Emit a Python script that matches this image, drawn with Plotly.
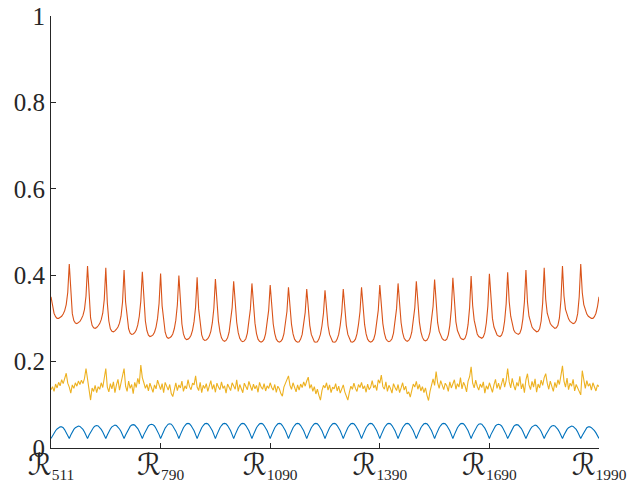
import numpy as np
import plotly.graph_objects as go

# Tick labels along the horizontal axis (region indices)
region_ids = ["511", "790", "1090", "1390", "1690", "1990"]
y_ticks = [0, 0.2, 0.4, 0.6, 0.8, 1]

# Series 1 (blue): smooth arches, one per cycle
blue_vals = [
    0.022, 0.029, 0.035, 0.040, 0.044, 0.047, 0.049, 0.049, 0.047, 0.042, 0.036, 0.029,
    0.022, 0.030, 0.037, 0.043, 0.047, 0.050, 0.051, 0.050, 0.047, 0.043, 0.037, 0.030,
    0.022, 0.030, 0.037, 0.043, 0.048, 0.051, 0.052, 0.051, 0.048, 0.043, 0.037, 0.030,
    0.022, 0.030, 0.038, 0.044, 0.049, 0.052, 0.053, 0.052, 0.049, 0.044, 0.038, 0.030,
    0.022, 0.030, 0.038, 0.045, 0.050, 0.053, 0.054, 0.053, 0.050, 0.045, 0.038, 0.030,
    0.022, 0.031, 0.039, 0.045, 0.051, 0.054, 0.055, 0.054, 0.051, 0.045, 0.039, 0.031,
    0.022, 0.031, 0.039, 0.046, 0.051, 0.055, 0.056, 0.055, 0.051, 0.046, 0.039, 0.031,
    0.022, 0.031, 0.040, 0.047, 0.052, 0.056, 0.057, 0.056, 0.052, 0.047, 0.040, 0.031,
    0.022, 0.031, 0.040, 0.047, 0.052, 0.056, 0.057, 0.056, 0.052, 0.047, 0.040, 0.031,
    0.022, 0.031, 0.040, 0.047, 0.052, 0.056, 0.057, 0.056, 0.052, 0.047, 0.040, 0.031,
    0.022, 0.031, 0.040, 0.047, 0.052, 0.056, 0.057, 0.056, 0.052, 0.047, 0.040, 0.031,
    0.022, 0.031, 0.040, 0.047, 0.052, 0.056, 0.057, 0.056, 0.052, 0.047, 0.040, 0.031,
    0.022, 0.031, 0.040, 0.047, 0.052, 0.056, 0.057, 0.056, 0.052, 0.047, 0.040, 0.031,
    0.022, 0.031, 0.040, 0.047, 0.052, 0.056, 0.057, 0.056, 0.052, 0.047, 0.040, 0.031,
    0.022, 0.031, 0.040, 0.047, 0.052, 0.056, 0.057, 0.056, 0.052, 0.047, 0.040, 0.031,
    0.022, 0.031, 0.040, 0.047, 0.052, 0.056, 0.057, 0.056, 0.052, 0.047, 0.040, 0.031,
    0.022, 0.031, 0.040, 0.047, 0.052, 0.056, 0.057, 0.056, 0.052, 0.047, 0.040, 0.031,
    0.022, 0.031, 0.040, 0.047, 0.052, 0.056, 0.057, 0.056, 0.052, 0.047, 0.040, 0.031,
    0.022, 0.031, 0.040, 0.047, 0.052, 0.056, 0.057, 0.056, 0.052, 0.047, 0.040, 0.031,
    0.022, 0.031, 0.040, 0.047, 0.052, 0.056, 0.057, 0.056, 0.052, 0.047, 0.040, 0.031,
    0.022, 0.031, 0.040, 0.047, 0.052, 0.056, 0.057, 0.056, 0.052, 0.047, 0.040, 0.031,
    0.022, 0.031, 0.040, 0.047, 0.052, 0.056, 0.057, 0.056, 0.052, 0.047, 0.040, 0.031,
    0.022, 0.031, 0.040, 0.047, 0.052, 0.056, 0.057, 0.056, 0.052, 0.047, 0.040, 0.031,
    0.022, 0.031, 0.039, 0.046, 0.051, 0.055, 0.056, 0.055, 0.051, 0.046, 0.039, 0.031,
    0.022, 0.031, 0.039, 0.045, 0.051, 0.054, 0.055, 0.054, 0.051, 0.045, 0.039, 0.031,
    0.022, 0.030, 0.038, 0.045, 0.050, 0.053, 0.054, 0.053, 0.050, 0.045, 0.038, 0.030,
    0.022, 0.030, 0.038, 0.044, 0.049, 0.052, 0.053, 0.052, 0.049, 0.044, 0.038, 0.030,
    0.022, 0.030, 0.037, 0.043, 0.048, 0.051, 0.052, 0.051, 0.048, 0.043, 0.037, 0.030,
    0.022, 0.030, 0.037, 0.043, 0.047, 0.050, 0.051, 0.050, 0.047, 0.043, 0.037, 0.030,
    0.022, 0.029, 0.036, 0.042, 0.047, 0.049, 0.049, 0.047, 0.044, 0.040, 0.035, 0.029,
    0.022,
]

# Series 2 (red): sharp cusps once per cycle
red_vals = [
    0.350, 0.327, 0.312, 0.304, 0.300, 0.300, 0.302, 0.305, 0.310, 0.318, 0.332, 0.360,
    0.426, 0.350, 0.311, 0.295, 0.289, 0.288, 0.290, 0.293, 0.299, 0.307, 0.321, 0.352,
    0.421, 0.342, 0.301, 0.284, 0.278, 0.277, 0.279, 0.283, 0.288, 0.297, 0.312, 0.344,
    0.417, 0.336, 0.294, 0.276, 0.270, 0.269, 0.271, 0.275, 0.280, 0.289, 0.305, 0.338,
    0.412, 0.338, 0.299, 0.276, 0.266, 0.263, 0.264, 0.267, 0.273, 0.285, 0.305, 0.340,
    0.408, 0.333, 0.294, 0.272, 0.261, 0.258, 0.259, 0.262, 0.268, 0.280, 0.300, 0.335,
    0.404, 0.329, 0.290, 0.268, 0.257, 0.254, 0.255, 0.258, 0.264, 0.276, 0.296, 0.331,
    0.399, 0.325, 0.287, 0.264, 0.254, 0.251, 0.252, 0.255, 0.261, 0.273, 0.293, 0.327,
    0.395, 0.322, 0.284, 0.262, 0.252, 0.249, 0.250, 0.253, 0.259, 0.270, 0.290, 0.324,
    0.391, 0.328, 0.293, 0.269, 0.255, 0.249, 0.247, 0.249, 0.255, 0.268, 0.291, 0.325,
    0.386, 0.324, 0.291, 0.267, 0.254, 0.248, 0.246, 0.248, 0.253, 0.266, 0.289, 0.322,
    0.381, 0.321, 0.289, 0.265, 0.252, 0.247, 0.245, 0.247, 0.252, 0.265, 0.287, 0.319,
    0.377, 0.319, 0.287, 0.265, 0.252, 0.247, 0.245, 0.247, 0.252, 0.264, 0.286, 0.316,
    0.372, 0.316, 0.286, 0.264, 0.252, 0.247, 0.245, 0.246, 0.252, 0.263, 0.284, 0.314,
    0.368, 0.314, 0.284, 0.263, 0.252, 0.246, 0.245, 0.246, 0.252, 0.263, 0.283, 0.312,
    0.365, 0.312, 0.283, 0.263, 0.252, 0.246, 0.245, 0.246, 0.252, 0.263, 0.284, 0.314,
    0.368, 0.314, 0.284, 0.263, 0.252, 0.246, 0.245, 0.247, 0.252, 0.264, 0.286, 0.316,
    0.372, 0.316, 0.286, 0.264, 0.252, 0.247, 0.245, 0.247, 0.252, 0.265, 0.287, 0.319,
    0.377, 0.319, 0.288, 0.266, 0.253, 0.248, 0.246, 0.248, 0.253, 0.266, 0.289, 0.322,
    0.381, 0.322, 0.290, 0.267, 0.254, 0.249, 0.247, 0.249, 0.255, 0.268, 0.291, 0.325,
    0.386, 0.325, 0.292, 0.269, 0.256, 0.250, 0.248, 0.250, 0.256, 0.269, 0.293, 0.328,
    0.390, 0.324, 0.290, 0.270, 0.259, 0.253, 0.250, 0.249, 0.252, 0.262, 0.284, 0.322,
    0.394, 0.327, 0.292, 0.272, 0.261, 0.255, 0.252, 0.251, 0.254, 0.264, 0.286, 0.325,
    0.398, 0.330, 0.296, 0.276, 0.264, 0.258, 0.255, 0.254, 0.257, 0.267, 0.290, 0.329,
    0.403, 0.335, 0.300, 0.280, 0.268, 0.262, 0.259, 0.258, 0.261, 0.271, 0.294, 0.333,
    0.407, 0.339, 0.305, 0.285, 0.273, 0.267, 0.264, 0.263, 0.266, 0.276, 0.299, 0.338,
    0.412, 0.338, 0.305, 0.289, 0.280, 0.275, 0.271, 0.269, 0.270, 0.276, 0.294, 0.336,
    0.417, 0.344, 0.312, 0.297, 0.288, 0.283, 0.279, 0.277, 0.278, 0.284, 0.301, 0.342,
    0.421, 0.352, 0.321, 0.307, 0.299, 0.293, 0.290, 0.288, 0.289, 0.295, 0.311, 0.350,
    0.426, 0.360, 0.332, 0.318, 0.310, 0.305, 0.302, 0.300, 0.300, 0.304, 0.312, 0.327,
    0.350,
]

# Series 3 (yellow): noisy band around 0.14
yellow_vals = [
    0.135, 0.142, 0.131, 0.148, 0.139, 0.152, 0.144, 0.158, 0.149, 0.163, 0.173, 0.150,
    0.141, 0.127, 0.146, 0.138, 0.151, 0.143, 0.155, 0.147, 0.157, 0.149, 0.161, 0.184,
    0.152, 0.135, 0.111, 0.139, 0.131, 0.145, 0.128, 0.142, 0.136, 0.151, 0.140, 0.158,
    0.184, 0.141, 0.130, 0.149, 0.137, 0.153, 0.128, 0.146, 0.159, 0.134, 0.150, 0.162,
    0.184, 0.143, 0.131, 0.155, 0.138, 0.147, 0.126, 0.152, 0.140, 0.161, 0.148, 0.192,
    0.163, 0.151, 0.138, 0.147, 0.132, 0.150, 0.141, 0.129, 0.146, 0.137, 0.157, 0.143,
    0.135, 0.149, 0.128, 0.152, 0.140, 0.134, 0.147, 0.126, 0.119, 0.138, 0.151, 0.133,
    0.146, 0.139, 0.155, 0.131, 0.144, 0.137, 0.158, 0.142, 0.135, 0.150, 0.146, 0.167,
    0.141, 0.133, 0.152, 0.128, 0.145, 0.138, 0.149, 0.131, 0.143, 0.156, 0.136, 0.147,
    0.129, 0.150, 0.141, 0.135, 0.153, 0.138, 0.144, 0.127, 0.148, 0.140, 0.133, 0.151,
    0.142, 0.136, 0.158, 0.131, 0.147, 0.139, 0.128, 0.150, 0.143, 0.135, 0.154, 0.140,
    0.133, 0.148, 0.137, 0.145, 0.129, 0.152, 0.141, 0.136, 0.149, 0.132, 0.144, 0.138,
    0.151, 0.140, 0.134, 0.147, 0.129, 0.143, 0.137, 0.126, 0.120, 0.141, 0.149, 0.158,
    0.167, 0.145, 0.136, 0.151, 0.139, 0.130, 0.146, 0.134, 0.148, 0.140, 0.153, 0.143,
    0.155, 0.164, 0.138, 0.147, 0.131, 0.142, 0.125, 0.136, 0.122, 0.111, 0.133, 0.145,
    0.139, 0.151, 0.134, 0.146, 0.128, 0.141, 0.137, 0.149, 0.132, 0.143, 0.127, 0.138,
    0.146, 0.130, 0.121, 0.111, 0.129, 0.143, 0.136, 0.150, 0.138, 0.131, 0.147, 0.140,
    0.152, 0.137, 0.144, 0.129, 0.148, 0.135, 0.141, 0.156, 0.139, 0.146, 0.133, 0.158,
    0.150, 0.169, 0.142, 0.136, 0.153, 0.131, 0.145, 0.138, 0.127, 0.149, 0.140, 0.133,
    0.147, 0.128, 0.139, 0.151, 0.134, 0.143, 0.125, 0.130, 0.118, 0.137, 0.148, 0.141,
    0.154, 0.136, 0.147, 0.132, 0.142, 0.128, 0.139, 0.122, 0.110, 0.131, 0.149, 0.160,
    0.145, 0.177, 0.151, 0.138, 0.156, 0.142, 0.135, 0.150, 0.144, 0.131, 0.153, 0.139,
    0.147, 0.158, 0.136, 0.149, 0.141, 0.163, 0.137, 0.152, 0.144, 0.130, 0.155, 0.165,
    0.188, 0.150, 0.139, 0.157, 0.143, 0.134, 0.148, 0.140, 0.153, 0.127, 0.144, 0.136,
    0.151, 0.142, 0.129, 0.146, 0.159, 0.138, 0.150, 0.135, 0.147, 0.162, 0.141, 0.156,
    0.184, 0.153, 0.139, 0.161, 0.145, 0.134, 0.152, 0.143, 0.166, 0.137, 0.149, 0.128,
    0.158, 0.172, 0.146, 0.135, 0.154, 0.141, 0.160, 0.129, 0.148, 0.139, 0.157, 0.145,
    0.163, 0.172, 0.150, 0.136, 0.155, 0.144, 0.131, 0.152, 0.140, 0.158, 0.147, 0.168,
    0.190, 0.155, 0.141, 0.162, 0.135, 0.150, 0.143, 0.159, 0.132, 0.147, 0.138, 0.128,
    0.123, 0.179, 0.152, 0.138, 0.156, 0.143, 0.149, 0.134, 0.151, 0.140, 0.132, 0.146,
    0.142,
]

x = np.arange(len(red_vals))
tick_pos = np.linspace(x[0], x[-1], len(region_ids))
script_r = '<span style="font-family:\'DejaVu Sans\';font-size:30px">ℛ</span>'
tick_text = [f"{script_r}<sub>{r}</sub>" for r in region_ids]

axis_col = "#262626"
serif = "Liberation Serif, DejaVu Serif, serif"

fig = go.Figure()
fig.add_trace(go.Scatter(x=x, y=blue_vals, mode="lines",
                         line=dict(color="#0072BD", width=1.1), showlegend=False))
fig.add_trace(go.Scatter(x=x, y=red_vals, mode="lines",
                         line=dict(color="#D95319", width=1.1), showlegend=False))
fig.add_trace(go.Scatter(x=x, y=yellow_vals, mode="lines",
                         line=dict(color="#EDB120", width=1.1), showlegend=False))

fig.update_layout(
    width=628, height=488,
    margin=dict(l=51, r=29, t=16, b=40),
    paper_bgcolor="white", plot_bgcolor="white",
    font=dict(family=serif, color=axis_col, size=22),
)
fig.update_xaxes(
    range=[x[0], x[-1]], automargin=False,
    tickmode="array", tickvals=tick_pos, ticktext=tick_text,
    ticks="inside", ticklen=5, tickcolor=axis_col, tickwidth=1,
    showline=True, linecolor=axis_col, linewidth=1,
    showgrid=False, zeroline=False, ticklabeloverflow="allow",
    tickfont=dict(family=serif, size=22, color=axis_col),
)
fig.update_yaxes(
    range=[0, 1], automargin=False,
    tickmode="array", tickvals=y_ticks,
    ticktext=[f"{v:g}" for v in y_ticks],
    ticks="inside", ticklen=5, tickcolor=axis_col, tickwidth=1,
    showline=True, linecolor=axis_col, linewidth=1,
    showgrid=False, zeroline=False, ticklabeloverflow="allow",
    tickfont=dict(family=serif, size=25, color=axis_col),
)

fig.write_html("out.html")
